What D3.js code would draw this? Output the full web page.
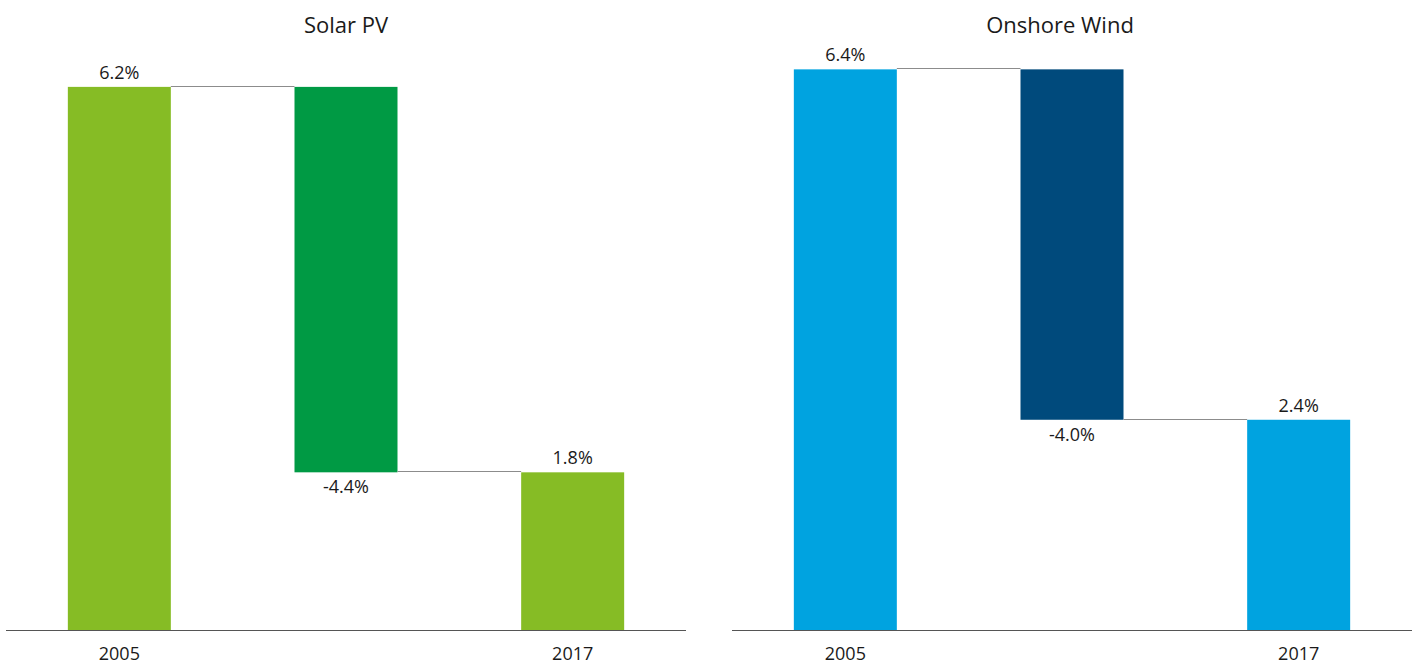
<!DOCTYPE html>
<html>
<head>
<meta charset="utf-8">
<script src="https://cdn.jsdelivr.net/npm/d3@7"></script>
<style>
  html, body { margin: 0; padding: 0; background: #fff; }
  svg { display: block; font-family: "Open Sans", "Noto Sans", sans-serif; }
</style>
</head>
<body>
<svg id="chart" width="1416" height="664"></svg>
<script>
// ---- Data ----
const panelTitles = ["Solar PV", "Onshore Wind"];
const categories = ["2005", "change", "2017"];
const categoryLabels = ["2005", "", "2017"];
const solarValues = [6.2, -4.4, 1.8];
const windValues = [6.4, -4.0, 2.4];
const valueLabels = [["6.2%", "-4.4%", "1.8%"], ["6.4%", "-4.0%", "2.4%"]];
const solarColors = ["#86BC25", "#009A44", "#86BC25"];
const windColors = ["#00A3E0", "#004A7C", "#00A3E0"];

// ---- Layout ----
const svg = d3.select("#chart");
const baseline = 630;
const y = d3.scaleLinear().domain([0, 7]).range([baseline, baseline - 7 * 87.6]);
const panels = [
  { x0: 6, x1: 686, titleShift: 0, values: solarValues, colors: solarColors, labels: valueLabels[0], title: panelTitles[0] },
  { x0: 732, x1: 1412, titleShift: -12, values: windValues, colors: windColors, labels: valueLabels[1], title: panelTitles[1] }
];

panels.forEach(p => {
  const x = d3.scaleBand().domain(categories).range([p.x0, p.x1])
    .paddingInner(0.5456).paddingOuter(0.2728);
  const g = svg.append("g");

  // compute waterfall segments
  let running = 0;
  const segs = p.values.map((v, i) => {
    let lo, hi;
    if (i === 0 || i === p.values.length - 1) { lo = 0; hi = v; running = v; }
    else { const start = running; running = start + v; lo = Math.min(start, running); hi = Math.max(start, running); }
    return { cat: categories[i], v, lo, hi, end: running, color: p.colors[i], label: p.labels[i] };
  });

  // bars
  g.selectAll("rect").data(segs).enter().append("rect")
    .attr("x", d => x(d.cat))
    .attr("width", x.bandwidth())
    .attr("y", d => y(d.hi))
    .attr("height", d => y(d.lo) - y(d.hi))
    .attr("fill", d => d.color);

  // connectors
  for (let i = 0; i < segs.length - 1; i++) {
    g.append("line")
      .attr("x1", x(segs[i].cat) + x.bandwidth())
      .attr("x2", x(segs[i + 1].cat))
      .attr("y1", Math.round(y(segs[i].end)) - 0.5)
      .attr("y2", Math.round(y(segs[i].end)) - 0.5)
      .attr("stroke", "#8c8c8c").attr("stroke-width", 1);
  }

  // value labels
  g.selectAll("text.val").data(segs).enter().append("text")
    .attr("class", "val")
    .attr("x", d => x(d.cat) + x.bandwidth() / 2)
    .attr("y", d => d.v >= 0 ? y(d.hi) - 8 : y(d.lo) + 21)
    .attr("text-anchor", "middle")
    .attr("font-size", 18)
    .attr("fill", "#1a1a1a")
    .text(d => d.label);

  // axis
  const axis = d3.axisBottom(x).tickSize(0).tickPadding(17)
    .tickFormat((d, i) => categoryLabels[i]);
  const ax = g.append("g").attr("transform", `translate(0,${baseline})`).call(axis);
  ax.select(".domain").attr("stroke", "#555").attr("stroke-width", 1.2)
    .attr("d", `M${p.x0},0.5H${p.x1}`);
  ax.selectAll("text").attr("font-size", 18).attr("fill", "#1a1a1a")
    .attr("font-family", "'Open Sans', 'Noto Sans', sans-serif");

  // title
  g.append("text")
    .attr("x", (p.x0 + p.x1) / 2 + p.titleShift)
    .attr("y", 33)
    .attr("text-anchor", "middle")
    .attr("font-size", 22)
    .attr("fill", "#1a1a1a")
    .text(p.title);
});
</script>
</body>
</html>
